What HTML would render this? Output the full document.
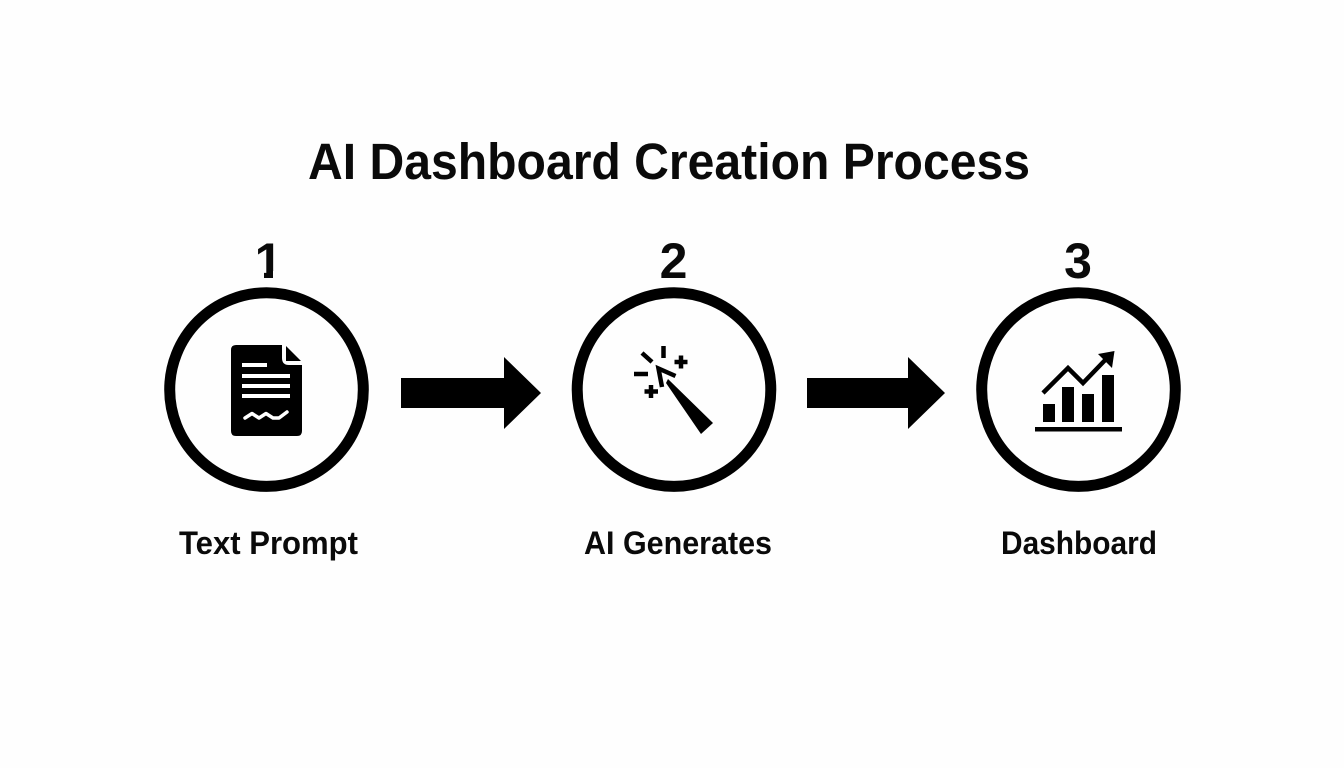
<!DOCTYPE html>
<html><head><meta charset="utf-8"><style>
html,body{margin:0;padding:0;background:#fefefe}
svg{display:block}
text{font-family:"Liberation Sans",sans-serif;font-weight:700;fill:#0a0a0a}
</style></head><body>
<svg width="1344" height="768" viewBox="0 0 1344 768" xmlns="http://www.w3.org/2000/svg">
<rect width="1344" height="768" fill="#fefefe"/>
<text x="308" y="179" font-size="51" textLength="722" lengthAdjust="spacingAndGlyphs">AI Dashboard Creation Process</text>
<text x="268.500" y="278" font-size="50" text-anchor="middle">1</text>
<rect x="250" y="271" width="14" height="9" fill="#fefefe"/>
<rect x="273" y="271" width="12" height="9" fill="#fefefe"/>
<text x="673.500" y="278" font-size="50" text-anchor="middle">2</text>
<text x="1078" y="278" font-size="50" text-anchor="middle">3</text>
<g fill="none" stroke="#000" stroke-width="11">
<circle cx="266.500" cy="389.600" r="96.800"/><circle cx="674" cy="389.600" r="96.800"/><circle cx="1078.500" cy="389.600" r="96.800"/>
</g>
<polygon points="401,378 504,378 504,357 541,393 504,429 504,408 401,408" fill="#000"/>
<polygon points="807,378 908,378 908,357 945,393 908,429 908,408 807,408" fill="#000"/>
<!-- document -->
<path d="M236 345H282V358Q282 365 289 365H302V431Q302 436 297 436H236Q231 436 231 431V350Q231 345 236 345Z" fill="#000"/>
<polygon points="286,346 301,361 286,361" fill="#000"/>
<g stroke="#fff" stroke-width="4" fill="none">
<path d="M242 365H267M242 376H290M242 386H290M242 396H290"/>
<polyline points="245,418 252,413.500 259,418 266,413.500 273,418 279,418 287,412" stroke-width="3.500" stroke-linejoin="round" stroke-linecap="round"/>
</g>
<!-- wand -->
<polygon points="668,379 713,423 701,434 666,383" fill="#000"/>
<g stroke="#000" fill="none" stroke-width="4.500">
<path d="M675.500 376L658.500 368.500L662 387"/>
<path d="M681 355.500V368.500M674.500 362H687.500"/>
<path d="M651 385V398M644.500 391.500H658"/>
<path d="M634 374H648M663.500 346V358M642 353L652 362"/>
</g>
<!-- chart -->
<g fill="#000">
<rect x="1043" y="404" width="12" height="18"/><rect x="1062" y="387" width="12" height="35"/>
<rect x="1082" y="394" width="12" height="28"/><rect x="1102" y="375" width="12" height="47"/>
<rect x="1035" y="427" width="87" height="4.500"/>
</g>
<path d="M1043 393L1068 368L1083 383L1110 355" fill="none" stroke="#000" stroke-width="4.500"/>
<polygon points="1098,354 1114.500,351 1112,368" fill="#000"/>
<text x="179" y="554" font-size="32" textLength="179" lengthAdjust="spacingAndGlyphs">Text Prompt</text>
<text x="584" y="554" font-size="32" textLength="188" lengthAdjust="spacingAndGlyphs">AI Generates</text>
<text x="1001" y="554" font-size="32" textLength="156" lengthAdjust="spacingAndGlyphs">Dashboard</text>
</svg>
</body></html>
